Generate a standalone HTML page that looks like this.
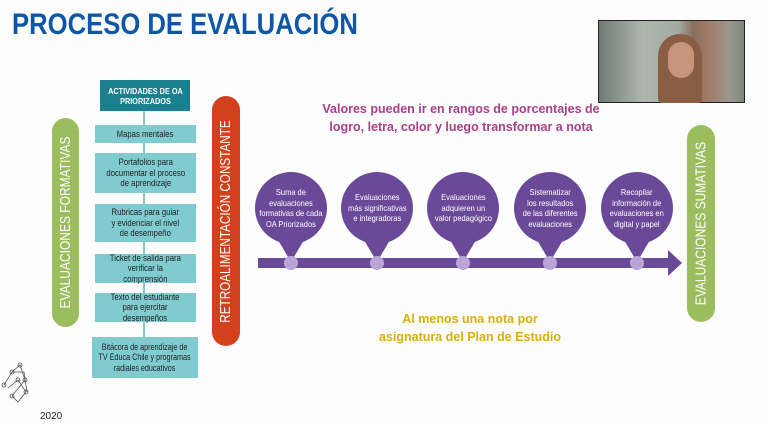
<!DOCTYPE html>
<html><head><meta charset="utf-8"><style>
body{margin:0;width:768px;height:424px;background:#fdfdfd;position:relative;overflow:hidden;font-family:"Liberation Sans",sans-serif}
.a{position:absolute}
.title{left:12px;top:8px;font-size:30px;font-weight:bold;color:#0f57a6;white-space:nowrap;transform-origin:0 0;transform:scaleX(0.855)}
.box{position:absolute;background:#7fcbd0;color:#222;font-size:9px;line-height:10.5px;text-align:center;display:flex;align-items:center;justify-content:center;white-space:nowrap}
.box span{display:inline-block;transform:scaleX(0.86)}
.pill{position:absolute;border-radius:14px;color:#fff;display:flex;align-items:center;justify-content:center}
.pill span{transform:rotate(-90deg) scaleX(0.8);white-space:nowrap;font-size:15px}
.ct{position:absolute;width:72px;text-align:center;color:#fff;font-size:8.5px;line-height:10.5px;display:flex;align-items:center;justify-content:center;height:70px;white-space:nowrap}
.ct span{display:inline-block;transform:scaleX(0.88)}
</style></head><body>
<div class="a title">PROCESO DE EVALUACIÓN</div>
<div class="a" style="left:598px;top:20px;width:147px;height:83px;background:linear-gradient(90deg,#6f7a74 0%,#aeb6ae 30%,#a3aaa2 55%,#8a6e5c 65%,#a27a68 75%,#9a968c 90%,#7d8880 100%);border:1px solid #222;box-sizing:border-box"></div>
<div class="a" style="left:658px;top:34px;width:44px;height:69px;border-radius:22px 22px 4px 4px;background:#8a5e44"></div>
<div class="a" style="left:668px;top:42px;width:26px;height:36px;border-radius:13px;background:#c8957c"></div>

<div class="a" style="left:143px;top:100px;width:2px;height:250px;background:#7fcbd0"></div>
<div class="box" style="left:100px;top:80px;width:90px;height:31px;background:#1a7f8e;color:#fff;font-weight:bold;font-size:8.5px;line-height:10px"><span>ACTIVIDADES DE OA<br>PRIORIZADOS</span></div>
<div class="box" style="left:95px;top:125px;width:101px;height:18px"><span>Mapas mentales</span></div>
<div class="box" style="left:95px;top:153px;width:101px;height:40px"><span>Portafolios para<br>documentar el proceso<br>de aprendizaje</span></div>
<div class="box" style="left:95px;top:204px;width:101px;height:38px"><span>Rubricas para guiar<br>y evidenciar el nivel<br>de desempeño</span></div>
<div class="box" style="left:95px;top:254px;width:101px;height:29px"><span>Ticket de salida para<br>verificar la<br>comprensión</span></div>
<div class="box" style="left:95px;top:293px;width:101px;height:29px"><span>Texto del estudiante<br>para ejercitar<br>desempeños</span></div>
<div class="box" style="left:92px;top:337px;width:106px;height:41px"><span style="transform:scaleX(0.8)">Bitácora de aprendizaje de<br>TV Educa Chile y programas<br>radiales educativos</span></div>

<div class="pill" style="left:52px;top:118px;width:27px;height:209px;background:#9cbd5e"><span>EVALUACIONES FORMATIVAS</span></div>
<div class="pill" style="left:212px;top:96px;width:28px;height:250px;background:#d2401c"><span style="transform:rotate(-90deg) scaleX(0.78)">RETROALIMENTACIÓN CONSTANTE</span></div>
<div class="pill" style="left:687px;top:125px;width:28px;height:197px;background:#9cbd5e"><span style="transform:rotate(-90deg) scaleX(0.8)">EVALUACIONES SUMATIVAS</span></div>

<div class="a" style="left:300px;top:100px;width:322px;text-align:center;color:#a8408a;font-weight:bold;font-size:12.5px;line-height:18px">Valores pueden ir en rangos de porcentajes de<br>logro, letra, color y luego transformar a nota</div>
<div class="a" style="left:360px;top:310px;width:220px;text-align:center;color:#d9b000;font-weight:bold;font-size:12.5px;line-height:18px">Al menos una nota por<br>asignatura del Plan de Estudio</div>

<svg class="a" style="left:0;top:0" width="768" height="424">
<rect x="258" y="258" width="412" height="10" fill="#6a4a98"/>
<polygon points="668,250 682,263 668,276" fill="#6a4a98"/>
<g fill="#6a4a98">
<circle cx="291" cy="208" r="36"/><polygon points="278,240 304,240 291,262"/>
<circle cx="377" cy="208" r="36"/><polygon points="364,240 390,240 377,262"/>
<circle cx="463" cy="208" r="36"/><polygon points="450,240 476,240 463,262"/>
<circle cx="550" cy="208" r="36"/><polygon points="537,240 563,240 550,262"/>
<circle cx="637" cy="208" r="36"/><polygon points="624,240 650,240 637,262"/>
</g>
<g fill="#b9a6d6">
<circle cx="291" cy="263" r="7"/><circle cx="377" cy="263" r="7"/><circle cx="463" cy="263" r="7"/><circle cx="550" cy="263" r="7"/><circle cx="637" cy="263" r="7"/>
</g>
<g stroke="#555" stroke-width="0.8" fill="none">
<polyline points="4,385 12,372 20,365 25,380 12,396 18,402 26,392 18,380 8,388"/>
<polyline points="12,372 24,372 27,392"/>
<circle cx="4" cy="385" r="2"/><circle cx="12" cy="372" r="2"/><circle cx="20" cy="365" r="2"/><circle cx="25" cy="380" r="2"/><circle cx="12" cy="396" r="2"/><circle cx="26" cy="392" r="2"/><circle cx="18" cy="380" r="2"/>
</g>
</svg>
<div class="ct" style="left:255px;top:173px"><span>Suma de<br>evaluaciones<br>formativas de cada<br>OA Priorizados</span></div>
<div class="ct" style="left:341px;top:173px"><span>Evaluaciones<br>más significativas<br>e integradoras</span></div>
<div class="ct" style="left:427px;top:173px"><span>Evaluaciones<br>adquieren un<br>valor pedagógico</span></div>
<div class="ct" style="left:514px;top:173px"><span>Sistematizar<br>los resultados<br>de las diferentes<br>evaluaciones</span></div>
<div class="ct" style="left:601px;top:173px"><span>Recopilar<br>información de<br>evaluaciones en<br>digital y papel</span></div>
<div class="a" style="left:40px;top:411px;font-size:10px;color:#222">2020</div>
</body></html>
